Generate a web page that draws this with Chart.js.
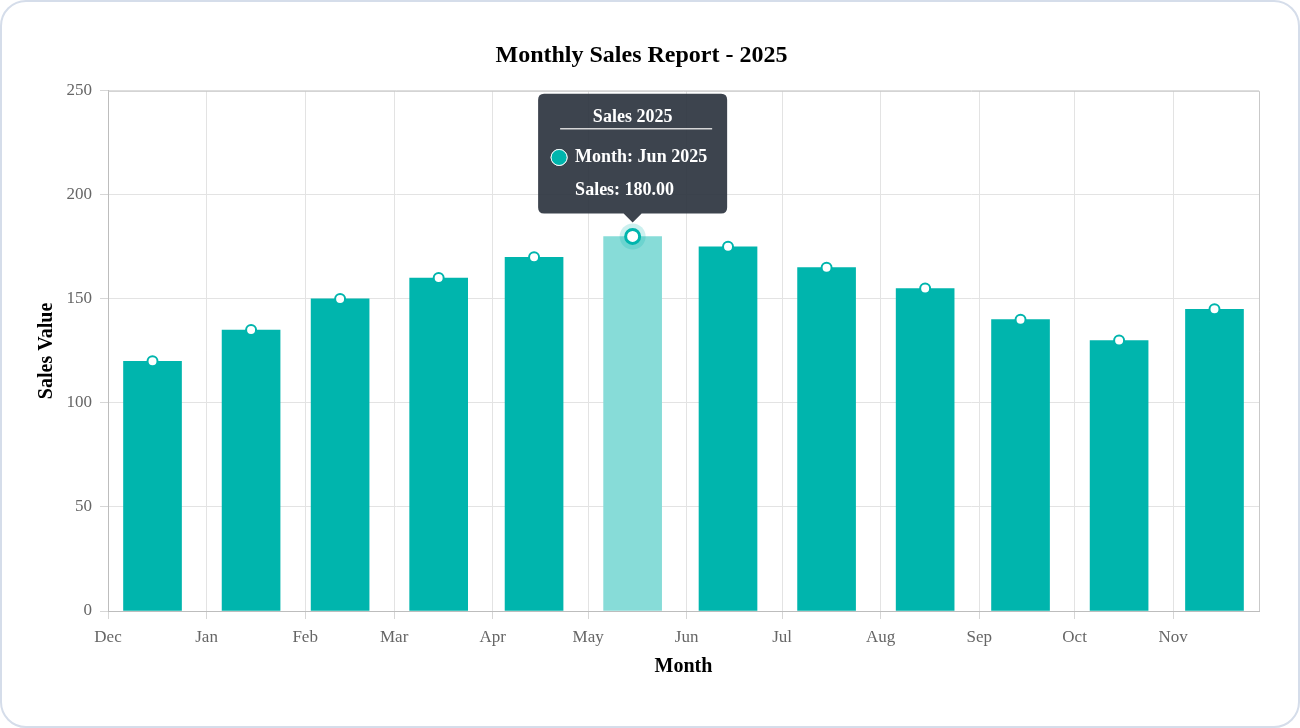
<!DOCTYPE html>
<html>
<head>
<meta charset="utf-8">
<script src="https://cdn.jsdelivr.net/npm/chart.js@4.4.1/dist/chart.umd.min.js"></script>
<style>
  html, body { margin: 0; padding: 0; background: #ffffff; }
  #card { position: absolute; left: 0; top: 0; width: 1300px; height: 728px; box-sizing: border-box;
          border: 2px solid #d5ddea; border-radius: 26px; background: #fff; }
  #c { position: absolute; left: 0; top: 0; }
</style>
</head>
<body>
<div id="card"></div>
<canvas id="c" width="1300" height="728"></canvas>
<script>
// ---- data ----
const dataDates   = ['2025-01-01','2025-02-01','2025-03-01','2025-04-01','2025-05-01','2025-06-01',
                     '2025-07-01','2025-08-01','2025-09-01','2025-10-01','2025-11-01','2025-12-01'];
const monthNames  = ['Jan 2025','Feb 2025','Mar 2025','Apr 2025','May 2025','Jun 2025',
                     'Jul 2025','Aug 2025','Sep 2025','Oct 2025','Nov 2025','Dec 2025'];
const sales       = [120, 135, 150, 160, 170, 180, 175, 165, 155, 140, 130, 145];
const tickDates   = ['2024-12-01','2025-01-01','2025-02-01','2025-03-01','2025-04-01','2025-05-01',
                     '2025-06-01','2025-07-01','2025-08-01','2025-09-01','2025-10-01','2025-11-01'];
const tickLabels  = ['Dec','Jan','Feb','Mar','Apr','May','Jun','Jul','Aug','Sep','Oct','Nov'];
const yTicks      = [0, 50, 100, 150, 200, 250];
const activeIndex = 5;

// ---- helpers ----
const ORIGIN = Date.UTC(2024, 11, 1);
const dayOf = s => { const [y, m, d] = s.split('-').map(Number); return (Date.UTC(y, m - 1, d) - ORIGIN) / 86400000; };
const BAR_SHIFT = 17;          // display shift of time scale (days)
const AXIS_END = 362;          // axis end (days from origin)
const tickValues = tickDates.map(dayOf);
const points = dataDates.map((d, i) => ({ x: dayOf(d) - BAR_SHIFT, y: sales[i] }));

const TEAL = '#00b5ad';
const FONT = "'Liberation Serif', 'Times New Roman', serif";
Chart.defaults.font.family = FONT;

const areaBorder = {
  id: 'areaBorder',
  beforeDatasetsDraw(chart) {
    const {ctx, chartArea: a} = chart;
    ctx.save();
    ctx.strokeStyle = '#c9c9c9';
    ctx.lineWidth = 1;
    ctx.beginPath();
    ctx.moveTo(a.left, a.top + 0.5); ctx.lineTo(a.right + 0.5, a.top + 0.5);
    ctx.lineTo(a.right + 0.5, a.bottom);
    ctx.stroke();
    ctx.restore();
  }
};

const halo = {
  id: 'halo',
  beforeDatasetDraw(chart, args) {
    if (args.index !== 1) return;
    const meta = chart.getDatasetMeta(1);
    const act = chart.getActiveElements().filter(e => e.datasetIndex === 1);
    const ctx = chart.ctx;
    act.forEach(e => {
      const el = meta.data[e.index];
      ctx.save();
      ctx.fillStyle = 'rgba(0,181,173,0.2)';
      ctx.beginPath(); ctx.arc(el.x, el.y, 13, 0, Math.PI * 2); ctx.fill();
      ctx.restore();
    });
  }
};

const titleUnderline = {
  id: 'titleUnderline',
  afterTooltipDraw(chart, args) {
    const tt = args.tooltip;
    if (!tt.opacity) return;
    const ctx = chart.ctx;
    ctx.save();
    ctx.strokeStyle = 'rgba(230,230,230,0.9)';
    ctx.lineWidth = 1.5;
    ctx.beginPath();
    ctx.moveTo(tt.x + 22, tt.y + 35);
    ctx.lineTo(tt.x + tt.width - 15, tt.y + 35);
    ctx.stroke();
    ctx.restore();
  }
};

const chart = new Chart(document.getElementById('c'), {
  type: 'bar',
  data: {
    datasets: [
      {
        type: 'bar',
        label: 'Sales',
        data: points,
        backgroundColor: TEAL,
        hoverBackgroundColor: '#87dcd8',
        borderWidth: 0,
        barThickness: 58,
        order: 1
      },
      {
        type: 'line',
        label: 'Sales 2025',
        data: points,
        showLine: false,
        pointRadius: 5,
        pointBorderWidth: 2,
        pointBackgroundColor: '#ffffff',
        pointBorderColor: TEAL,
        pointHoverRadius: 7,
        pointHoverBorderWidth: 3,
        pointHoverBackgroundColor: '#ffffff',
        pointHoverBorderColor: TEAL,
        order: 0
      }
    ]
  },
  options: {
    responsive: false,
    devicePixelRatio: 1,
    animation: false,
    events: [],
    layout: { padding: { top: 20, left: 24, right: 41, bottom: 40 } },
    scales: {
      x: {
        type: 'linear',
        min: 0,
        max: AXIS_END,
        offset: false,
        afterBuildTicks: s => { s.ticks = tickValues.map(v => ({ value: v })); },
        afterFit: s => { s.height = 77; },
        grid: { offset: false, color: '#e3e3e3', tickLength: 8, tickColor: '#d6d6d6' },
        border: { color: '#bdbdbd' },
        ticks: {
          autoSkip: false, maxRotation: 0, padding: 8,
          color: '#666', font: { size: 17 },
          callback: (v) => { const i = tickValues.indexOf(v); return i >= 0 ? tickLabels[i] : ''; }
        },
        title: { display: true, text: 'Month', color: '#000',
                 font: { size: 20, weight: 'bold' }, padding: { top: 0, bottom: 9 } }
      },
      y: {
        min: 0, max: 250,
        afterBuildTicks: s => { s.ticks = yTicks.map(v => ({ value: v })); },
        afterFit: s => { s.width = 84; },
        grid: { color: '#e3e3e3', tickLength: 8, tickColor: '#d6d6d6' },
        border: { color: '#bdbdbd' },
        ticks: { padding: 8, color: '#666', font: { size: 17 } },
        title: { display: true, text: 'Sales Value', color: '#000',
                 font: { size: 20, weight: 'bold' }, padding: { top: 11, bottom: 0 } }
      }
    },
    plugins: {
      legend: { display: false },
      title: {
        display: true, text: 'Monthly Sales Report - 2025', color: '#000',
        font: { size: 24, weight: 'bold' }, padding: { top: 21, bottom: 21 }
      },
      tooltip: {
        enabled: true,
        xAlign: 'center', yAlign: 'bottom',
        backgroundColor: 'rgba(45,52,63,0.92)',
        titleColor: '#ffffff', bodyColor: '#ffffff',
        titleFont: { size: 18, weight: 'bold', lineHeight: 1.2 },
        bodyFont: { size: 18, weight: 'bold', lineHeight: 1.2222 },
        titleAlign: 'center', bodyAlign: 'left',
        titleMarginBottom: 18, bodySpacing: 11,
        padding: { top: 13, bottom: 12, left: 13, right: 20 },
        caretSize: 9, caretPadding: 14, cornerRadius: 6,
        displayColors: true, usePointStyle: true,
        boxWidth: 16, boxHeight: 16, boxPadding: 6,
        multiKeyBackground: '#ffffff',
        filter: item => item.datasetIndex === 1,
        callbacks: {
          title: () => 'Sales 2025',
          label: ctx => ['Month: ' + monthNames[ctx.dataIndex], 'Sales: ' + sales[ctx.dataIndex].toFixed(2)],
          labelColor: () => ({ borderColor: 'rgba(255,255,255,0.85)', backgroundColor: TEAL, borderWidth: 1 }),
          labelPointStyle: () => ({ pointStyle: 'circle', rotation: 0 })
        }
      }
    }
  },
  plugins: [areaBorder, halo, titleUnderline]
});

chart.setActiveElements([{ datasetIndex: 0, index: activeIndex }, { datasetIndex: 1, index: activeIndex }]);
const pt = chart.getDatasetMeta(1).data[activeIndex];
chart.tooltip.setActiveElements([{ datasetIndex: 1, index: activeIndex }], { x: pt.x, y: pt.y });
chart.update();
</script>
</body>
</html>
